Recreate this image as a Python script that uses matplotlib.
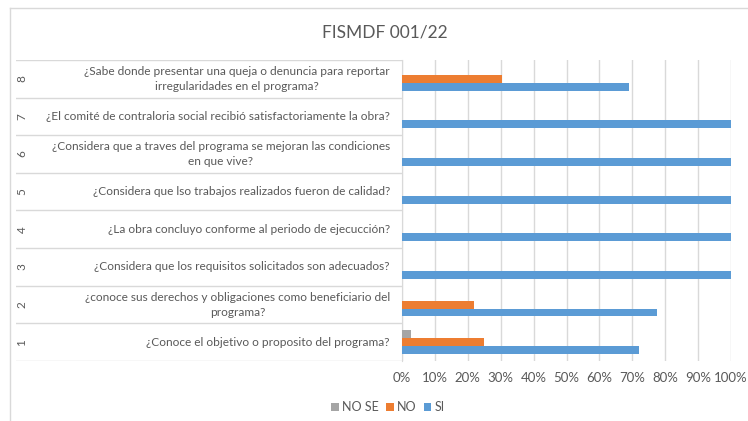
import matplotlib
matplotlib.use("Agg")
import matplotlib.pyplot as plt
from matplotlib.lines import Line2D
from matplotlib.ticker import PercentFormatter

numbers = ["1", "2", "3", "4", "5", "6", "7", "8"]
questions = [
    "¿Conoce el objetivo o proposito del programa?",
    "¿conoce sus derechos y obligaciones como beneficiario del\nprograma?",
    "¿Considera que los requisitos solicitados son adecuados?",
    "¿La obra concluyo conforme al periodo de ejecucción?",
    "¿Considera que lso trabajos realizados fueron de calidad?",
    "¿Considera que a traves del programa se mejoran las condiciones\nen que vive?",
    "¿El comité de contraloria social recibió satisfactoriamente la obra?",
    "¿Sabe donde presentar una queja o denuncia para reportar\nirregularidades en el programa?",
]
no_se = [0.027, 0, 0, 0, 0, 0, 0, 0]
no = [0.25, 0.22, 0, 0, 0, 0, 0, 0.305]
si = [0.72, 0.775, 1.0, 1.0, 1.0, 1.0, 1.0, 0.69]
series_names = ["NO SE", "NO", "SI"]
colors = ["#A5A5A5", "#ED7D31", "#5B9BD5"]

plt.rcParams['font.family'] = ['Lato', 'DejaVu Sans']
W, H = 748, 421
fig = plt.figure(figsize=(W / 100, H / 100), dpi=100)
grid_c = "#d9d9d9"
text_c = "#595959"

x0, x1, ytop, ybot = 402, 731, 60, 361
ax = fig.add_axes([x0 / W, 1 - ybot / H, (x1 - x0) / W, (ybot - ytop) / H])
n = len(questions)
ys = list(range(n))
h = 0.21
for vals, off, c, lab in zip([no_se, no, si], [h, 0, -h], colors, series_names):
    ax.barh([y + off for y in ys], vals, height=h, color=c, label=lab, zorder=3)
ax.set_xlim(0, 1)
ax.set_ylim(-0.5, n - 0.5)
ax.set_xticks([i / 10 for i in range(11)])
ax.xaxis.set_major_formatter(PercentFormatter(1.0, decimals=0))
ax.tick_params(axis='x', length=0, labelsize=9.5, colors=text_c, pad=8)
ax.set_yticks([])
ax.grid(axis='x', color=grid_c, linewidth=1, zorder=0)
for s in ["top", "right", "bottom"]:
    ax.spines[s].set_visible(False)
ax.spines["left"].set_color(grid_c)

# label area
lx0 = 16
lax = fig.add_axes([lx0 / W, 1 - ybot / H, (x0 - lx0) / W, (ybot - ytop) / H])
lax.set_xlim(lx0, x0)
lax.set_ylim(-0.5, n - 0.5)
lax.axis('off')
for b in range(n + 1):
    lax.axhline(b - 0.5, color=grid_c, linewidth=1)
for y, num, q in zip(ys, numbers, questions):
    lax.text(22, y, num, rotation=90, ha='center', va='center', fontsize=8.5, color=text_c)
    lax.text(390, y, q, ha='right', va='center', multialignment='center',
             fontsize=8.6, color=text_c, linespacing=1.45)

fig.text(385 / W, 1 - 32 / H, "FISMDF 001/22", ha='center', va='center', fontsize=12.5, color=text_c)

handles, labels = ax.get_legend_handles_labels()
fig.legend(handles, labels, loc='center', bbox_to_anchor=(388 / W, 1 - 407 / H), ncol=3,
           frameon=False, fontsize=9, handlelength=0.6, handleheight=0.6, handletextpad=0.25,
           columnspacing=0.6, labelcolor=text_c)

fig.add_artist(Line2D([9.5 / W, 9.5 / W], [0, 1 - 8 / H], color=grid_c, linewidth=1))
fig.add_artist(Line2D([9.5 / W, 1], [1 - 8 / H, 1 - 8 / H], color=grid_c, linewidth=1))

fig.savefig("out.png", dpi=100)
